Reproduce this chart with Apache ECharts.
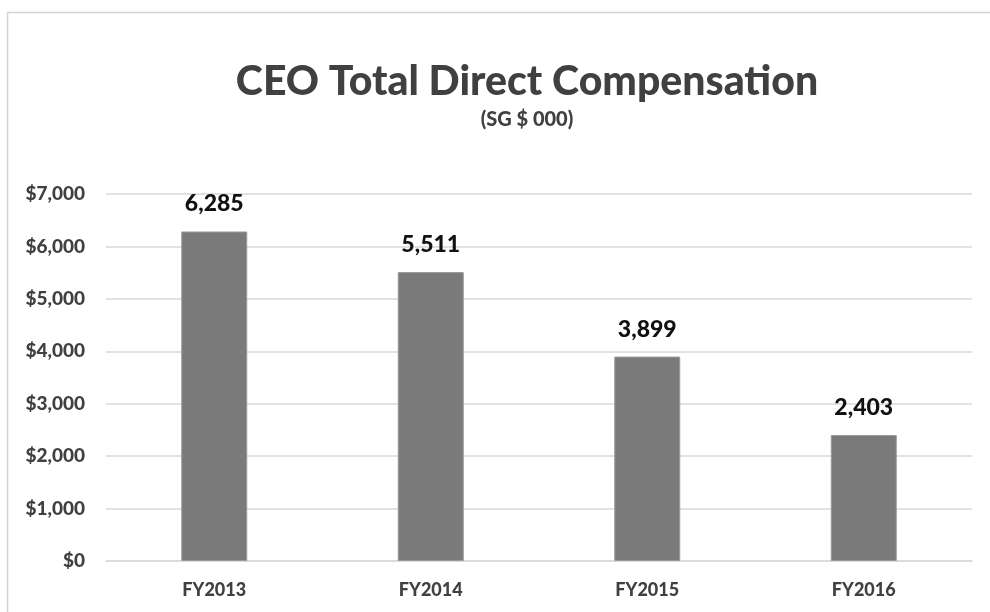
<!DOCTYPE html>
<html><head><meta charset="utf-8">
<script src="https://cdn.jsdelivr.net/npm/echarts@6/dist/echarts.min.js"></script>
<style>html,body{margin:0;padding:0;background:#fff}#c{width:990px;height:612px}</style>
</head><body><div id="c"></div>
<script>
const categories = ['FY2013','FY2014','FY2015','FY2016'];
const values = [6285, 5511, 3899, 2403];
const yTicks = [0, 1000, 2000, 3000, 4000, 5000, 6000, 7000];
const titleText = 'CEO Total Direct Compensation';
const subtitleText = '(SG $ 000)';

const FONT = 'Lato';
const chart = echarts.init(document.getElementById('c'));
chart.setOption({
  backgroundColor: '#ffffff',
  animation: false,
  graphic: [
    { type: 'line', shape: { x1: 7.5, y1: 12.5, x2: 990, y2: 12.5 }, style: { stroke: '#d4d4d4', lineWidth: 1.5 } },
    { type: 'line', shape: { x1: 7.5, y1: 12.5, x2: 7.5, y2: 612 }, style: { stroke: '#d4d4d4', lineWidth: 1.5 } }
  ],
  title: {
    text: titleText,
    subtext: subtitleText,
    left: 522, top: 56, textAlign: 'center',
    itemGap: 8,
    textStyle: { fontFamily: FONT, fontWeight: 900, fontSize: 41, color: '#404040' },
    subtextStyle: { fontFamily: FONT, fontWeight: 900, fontSize: 20, color: '#404040' }
  },
  grid: { left: 106, right: 18, top: 194, bottom: 51, containLabel: false },
  xAxis: {
    type: 'category', data: categories,
    axisLine: { show: true, lineStyle: { color: '#d9d9d9', width: 1.5 } },
    axisTick: { show: false },
    axisLabel: { fontFamily: FONT, fontWeight: 900, fontSize: 18, color: '#404040', margin: 20 }
  },
  yAxis: {
    type: 'value', min: yTicks[0], max: yTicks[yTicks.length - 1], interval: 1000,
    axisLine: { show: false }, axisTick: { show: false },
    splitLine: { lineStyle: { color: '#d9d9d9', width: 1.5 } },
    axisLabel: {
      fontFamily: FONT, fontWeight: 900, fontSize: 19, color: '#404040', margin: 21,
      formatter: v => '$' + v.toLocaleString('en-US')
    }
  },
  series: [{
    type: 'bar', data: values, barWidth: 66,
    itemStyle: { color: '#7a7a7a', borderColor: '#9a9a9a', borderWidth: 1 },
    label: {
      show: true, position: 'top', distance: 16,
      fontFamily: FONT, fontWeight: 900, fontSize: 23, color: '#111111',
      formatter: p => p.value.toLocaleString('en-US')
    }
  }]
});
</script></body></html>
